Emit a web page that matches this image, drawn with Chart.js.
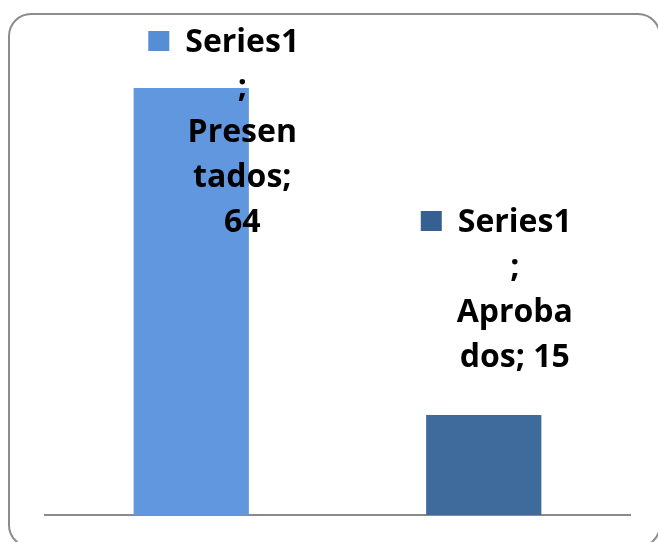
<!DOCTYPE html>
<html>
<head>
<meta charset="utf-8">
<script src="https://cdn.jsdelivr.net/npm/chart.js@4/dist/chart.umd.min.js"></script>
<style>
html,body{margin:0;padding:0;background:#fff;}
#wrap{position:relative;width:658px;height:542px;overflow:hidden;}
canvas{display:block;}
</style>
</head>
<body>
<div id="wrap"><canvas id="c" width="658" height="542"></canvas></div>
<script>
const seriesName = "Series1";
const categories = ["Presentados", "Aprobados"];
const values = [64, 15];
const labelLines = [
  ["Series1", ";", "Presen", "tados;", "64"],
  ["Series1", ";", "Aproba", "dos; 15"]
];

const barColors = ["#6197DF", "#3F6A9C"];
const keyColors = ["#558ED5", "#376092"];

const labelLayout = [
  { dx: 51, firstY: 43 },
  { dx: 31, firstY: 223 }
];

const framePlugin = {
  id: 'frame',
  beforeDraw(chart) {
    const ctx = chart.ctx;
    ctx.save();
    ctx.fillStyle = '#ffffff';
    ctx.fillRect(0, 0, chart.width, chart.height);
    ctx.beginPath();
    ctx.roundRect(9, 14, 651, 533, 22);
    ctx.strokeStyle = '#8c8c8c';
    ctx.lineWidth = 2;
    ctx.stroke();
    ctx.restore();
  }
};

const labelPlugin = {
  id: 'barLabels',
  afterDatasetsDraw(chart) {
    const ctx = chart.ctx;
    const meta = chart.getDatasetMeta(0);
    ctx.save();
    ctx.font = 'bold 32px "Open Sans", Lato, sans-serif';
    ctx.textAlign = 'center';
    ctx.textBaseline = 'middle';
    const lh = 45;
    labelLines.forEach((lines, i) => {
      const bar = meta.data[i];
      const cx = bar.x + labelLayout[i].dx;
      const y0 = labelLayout[i].firstY;
      lines.forEach((t, j) => {
        ctx.fillStyle = '#000000';
        ctx.fillText(t, cx, y0 + j * lh);
      });
      const w = ctx.measureText(lines[0]).width;
      const kx = cx - w / 2 - 16 - 21;
      ctx.fillStyle = keyColors[i];
      ctx.fillRect(kx, y0 - 12, 21, 20);
    });
    ctx.restore();
  }
};

new Chart(document.getElementById('c'), {
  type: 'bar',
  data: {
    labels: categories,
    datasets: [{
      label: seriesName,
      data: values,
      backgroundColor: barColors,
      borderWidth: 0,
      categoryPercentage: 1,
      barPercentage: 0.394
    }]
  },
  options: {
    responsive: false,
    animation: false,
    layout: { padding: { left: 45, right: 28, top: 48, bottom: 27 } },
    plugins: { legend: { display: false }, tooltip: { enabled: false } },
    scales: {
      x: {
        display: true,
        ticks: { display: false },
        grid: { display: false, drawTicks: false },
        border: { display: true, color: '#8a8a8a', width: 2 }
      },
      y: {
        display: false,
        min: 0,
        max: 70
      }
    }
  },
  plugins: [framePlugin, labelPlugin]
});
</script>
</body>
</html>
